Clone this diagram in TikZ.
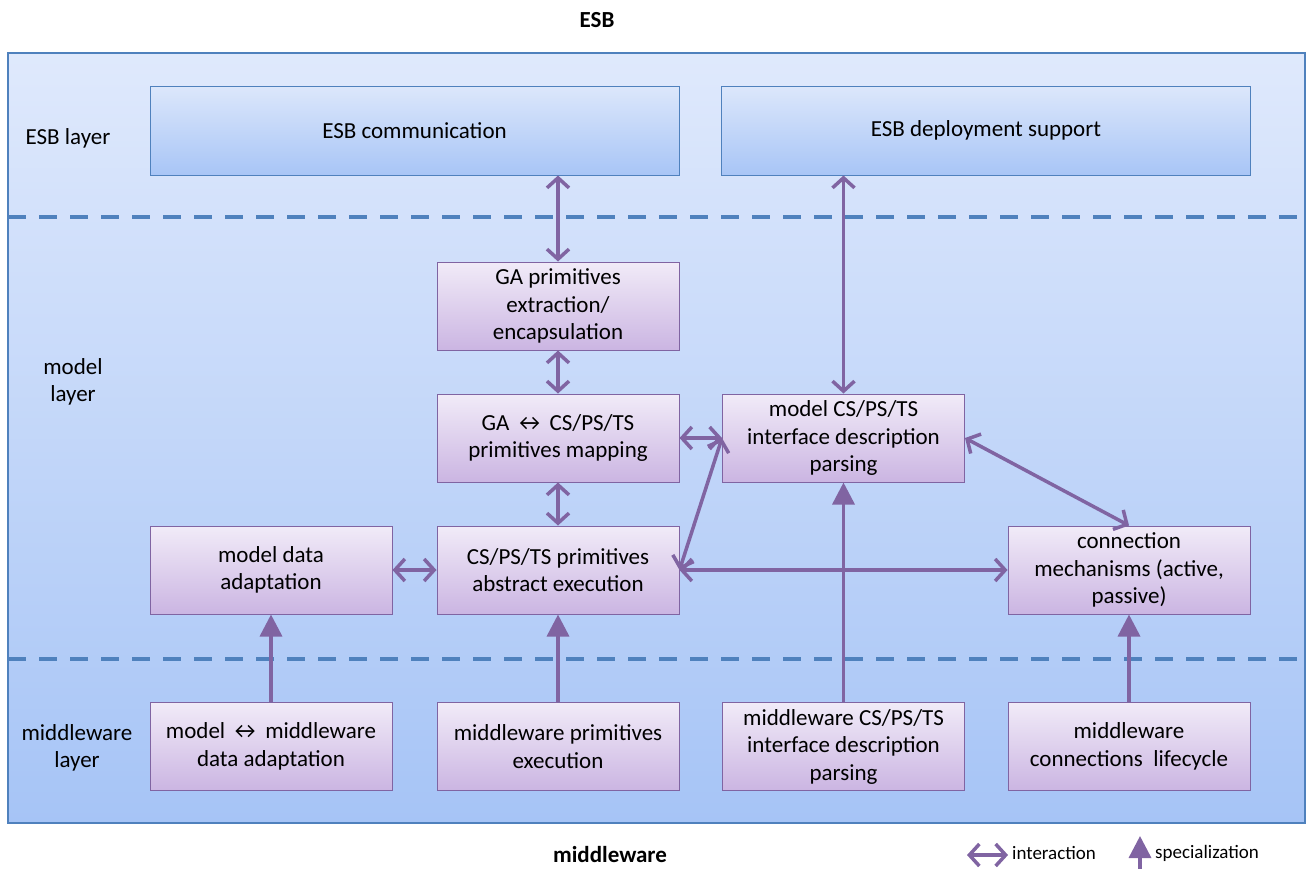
\documentclass[tikz,border=0pt]{standalone}
\usepackage{fontspec}
\setmainfont{Carlito}
\usetikzlibrary{arrows.meta}
\definecolor{bdblue}{HTML}{4F81BD}
\definecolor{purp}{HTML}{8064A2}
\definecolor{bgtop}{HTML}{DFE9FC}
\definecolor{bgbot}{HTML}{A6C4F6}
\definecolor{bltop}{HTML}{DCE7FB}
\definecolor{blbot}{HTML}{A8C5F6}
\definecolor{putop}{HTML}{F1EBF8}
\definecolor{pubot}{HTML}{CBB5E2}
\tikzset{
  txt/.style={font=\fontsize{23}{27.5}\selectfont, align=center, text=black},
  bluebox/.style={txt, draw=bdblue, line width=1pt, top color=bltop, bottom color=blbot, minimum width=529pt, minimum height=89pt, inner sep=0pt},
  purpbox/.style={txt, draw=purp, line width=1pt, top color=putop, bottom color=pubot, minimum width=242pt, minimum height=88pt, inner sep=0pt},
  layerlbl/.style={txt},
  sepline/.style={draw=bdblue, line width=4pt, dash pattern=on 18pt off 13pt},
  inter/.style={draw=purp, line width=3.5pt, {Straight Barb[length=10pt,width=22pt]}-{Straight Barb[length=10pt,width=22pt]}},
  spec/.style={draw=purp, line width=3.5pt, -{Triangle[length=22pt,width=22pt]}},
  legtxt/.style={text=black, anchor=west, inner sep=0pt, font=\fontsize{19}{22}\selectfont},
}
\begin{document}
\begin{tikzpicture}[x=1pt,y=-1pt]
\useasboundingbox (0,0) rectangle (1306,868);
% background frame
\path[draw=bdblue, line width=1.2pt, top color=bgtop, bottom color=bgbot] (8,53) rectangle (1305,823);
\draw[sepline] (8,217) -- (1305,217);
\draw[sepline] (8,659) -- (1305,659);
% titles
\node[text=black, inner sep=0pt, font=\fontsize{23}{27}\selectfont\bfseries] (esbt) at (597,20) {ESB};
\node[text=black, inner sep=0pt, font=\fontsize{23}{27}\selectfont\bfseries] (mwt) at (610,855) {middleware};
% layer labels
\node[layerlbl] (l1) at (68,138) {ESB layer};
\node[layerlbl] (l2) at (73,382) {model\\layer};
\node[layerlbl] (l3) at (77,748) {middleware\\layer};
% ESB layer
\node[bluebox] (esbc) at (414.5,130.5) {ESB communication};
\node[bluebox] (esbd) at (986,130.5) {ESB deployment support};
% model layer
\node[purpbox] (gap) at (558,306) {GA primitives\\extraction/\\encapsulation};
\node[purpbox] (map) at (558,438) {GA ↔ CS/PS/TS\\primitives mapping};
\node[purpbox] (mcs) at (843.5,438) {model CS/PS/TS\\interface description\\parsing};
\node[purpbox] (mda) at (271,570) {model data\\adaptation};
\node[purpbox] (abs) at (558,570) {CS/PS/TS primitives\\abstract execution};
\node[purpbox] (con) at (1129,570) {connection\\mechanisms (active,\\passive)};
% middleware layer
\node[purpbox] (mmd) at (271,746.5) {model ↔ middleware\\data adaptation};
\node[purpbox] (mpe) at (558,746.5) {middleware primitives\\execution};
\node[purpbox] (mcp) at (843.5,746.5) {middleware CS/PS/TS\\interface description\\parsing};
\node[purpbox] (mcl) at (1129,746.5) {middleware\\connections\ \ lifecycle};
% interaction arrows
\draw[inter] (gap.north |- esbc.south) -- (gap.north);
\draw[inter] (mcs.north |- esbd.south) -- (mcs.north);
\draw[inter] (gap.south) -- (map.north);
\draw[inter] (map.east) -- (mcs.west);
\draw[inter] (map.south) -- (abs.north);
\draw[inter] (mda.east) -- (abs.west);
\draw[inter] (abs.east) -- (con.west);
\draw[inter] (abs.east) -- (mcs.west);
\draw[inter] (mcs.east) -- (con.north);
% specialization arrows
\draw[spec] (mmd.north) -- (mda.south);
\draw[spec] (mpe.north) -- (abs.south);
\draw[spec] (mcp.north) -- (mcs.south);
\draw[spec] (mcl.north) -- (con.south);
% legend
\coordinate (li1) at (967,855);
\coordinate (li2) at (1008,855);
\draw[inter] (li1) -- (li2);
\node[legtxt] (lit) at (1012,853) {interaction};
\coordinate (ls1) at (1140,872);
\coordinate (ls2) at (1140,836);
\draw[spec] (ls1) -- (ls2);
\node[legtxt] (lst) at (1155,853) {specialization};
\end{tikzpicture}
\end{document}
